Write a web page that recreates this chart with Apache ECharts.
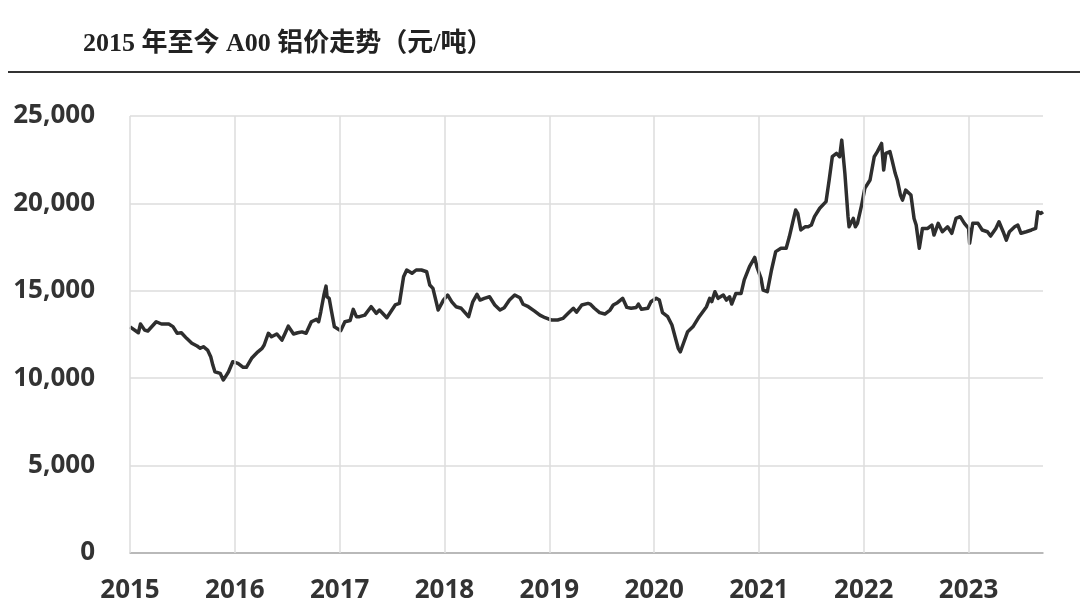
<!DOCTYPE html>
<html>
<head>
<meta charset="utf-8">
<script src="https://cdn.jsdelivr.net/npm/echarts@6/dist/echarts.min.js"></script>
<style>
html,body{margin:0;padding:0;background:#fff;}
#chart{width:1080px;height:611px;}
</style>
</head>
<body>
<div id="chart"></div>
<script>
const titleText = '2015 年至今 A00 铝价走势（元/吨）';
const yearTicks = [2015, 2016, 2017, 2018, 2019, 2020, 2021, 2022, 2023];
const xMin = 2015;
const xMax = 2023.71;
const yTicks = [0, 5000, 10000, 15000, 20000, 25000];

// decimal-year positions of the readings
const dates = [
  2015.00, 2015.08, 2015.10, 2015.14, 2015.17, 2015.25, 2015.30, 2015.37, 2015.41, 2015.45,
  2015.49, 2015.54, 2015.59, 2015.64, 2015.67, 2015.70, 2015.74, 2015.77, 2015.79, 2015.81,
  2015.86, 2015.89, 2015.91, 2015.94, 2015.98, 2016.03, 2016.08, 2016.11, 2016.16, 2016.22,
  2016.26, 2016.28, 2016.32, 2016.35, 2016.40, 2016.45, 2016.48, 2016.51, 2016.56, 2016.60,
  2016.64, 2016.68, 2016.73, 2016.78, 2016.80, 2016.82, 2016.85, 2016.87, 2016.88, 2016.90,
  2016.92, 2016.95, 2017.01, 2017.05, 2017.10, 2017.13, 2017.16, 2017.19, 2017.24, 2017.30,
  2017.35, 2017.38, 2017.45, 2017.53, 2017.57, 2017.61, 2017.64, 2017.69, 2017.73, 2017.78,
  2017.83, 2017.86, 2017.89, 2017.94, 2017.99, 2018.03, 2018.07, 2018.11, 2018.16, 2018.23,
  2018.27, 2018.31, 2018.34, 2018.38, 2018.43, 2018.48, 2018.53, 2018.57, 2018.62, 2018.67,
  2018.72, 2018.75, 2018.80, 2018.86, 2018.91, 2018.96, 2019.02, 2019.08, 2019.13, 2019.18,
  2019.23, 2019.26, 2019.31, 2019.37, 2019.39, 2019.43, 2019.48, 2019.53, 2019.58, 2019.61,
  2019.65, 2019.70, 2019.74, 2019.78, 2019.83, 2019.85, 2019.88, 2019.94, 2019.97, 2020.02,
  2020.05, 2020.08, 2020.13, 2020.17, 2020.20, 2020.23, 2020.25, 2020.28, 2020.32, 2020.37,
  2020.43, 2020.50, 2020.53, 2020.55, 2020.58, 2020.61, 2020.66, 2020.69, 2020.72, 2020.74,
  2020.78, 2020.83, 2020.86, 2020.91, 2020.96, 2020.98, 2021.02, 2021.04, 2021.08, 2021.12,
  2021.16, 2021.21, 2021.26, 2021.29, 2021.32, 2021.35, 2021.37, 2021.40, 2021.44, 2021.47,
  2021.50, 2021.53, 2021.58, 2021.64, 2021.67, 2021.70, 2021.74, 2021.77, 2021.79, 2021.82,
  2021.85, 2021.86, 2021.90, 2021.92, 2021.94, 2021.98, 2022.01, 2022.06, 2022.10, 2022.13,
  2022.17, 2022.19, 2022.21, 2022.25, 2022.27, 2022.30, 2022.32, 2022.35, 2022.37, 2022.40,
  2022.45, 2022.48, 2022.50, 2022.53, 2022.56, 2022.61, 2022.65, 2022.67, 2022.71, 2022.75,
  2022.80, 2022.84, 2022.88, 2022.92, 2022.96, 2023.00, 2023.01, 2023.04, 2023.09, 2023.13,
  2023.18, 2023.21, 2023.26, 2023.29, 2023.33, 2023.36, 2023.39, 2023.44, 2023.47, 2023.50,
  2023.55, 2023.60, 2023.64, 2023.66, 2023.69, 2023.71
];

// A00 aluminium price, yuan/ton
const prices = [
  12940, 12600, 13100, 12750, 12700, 13230, 13100, 13100, 12950, 12570,
  12600, 12280, 12000, 11840, 11710, 11800, 11610, 11230, 10750, 10370,
  10280, 9900, 10080, 10370, 10940, 10850, 10620, 10620, 11140, 11510,
  11710, 11900, 12570, 12370, 12530, 12180, 12570, 12980, 12530, 12600,
  12650, 12570, 13230, 13370, 13230, 13800, 14760, 15270, 14660, 14570,
  13900, 12940, 12720, 13230, 13300, 13940, 13520, 13520, 13610, 14090,
  13710, 13900, 13460, 14190, 14280, 15800, 16190, 16000, 16190, 16190,
  16090, 15330, 15140, 13900, 14470, 14760, 14370, 14090, 14000, 13520,
  14370, 14800, 14470, 14570, 14660, 14190, 13900, 14030, 14470, 14760,
  14600, 14230, 14090, 13840, 13610, 13460, 13330, 13330, 13420, 13710,
  14000, 13780, 14190, 14280, 14240, 14000, 13750, 13670, 13900, 14190,
  14320, 14570, 14050, 14000, 14050, 14240, 13940, 14000, 14370, 14570,
  14470, 13750, 13520, 13040, 12370, 11710, 11510, 12000, 12660, 12940,
  13520, 14090, 14570, 14380, 14950, 14570, 14760, 14470, 14660, 14240,
  14850, 14850, 15620, 16380, 16910, 16380, 15710, 15040, 14950, 16190,
  17240, 17430, 17430, 18090, 18860, 19620, 19430, 18480, 18660, 18660,
  18760, 19240, 19720, 20100, 21340, 22670, 22860, 22670, 23620, 21720,
  19240, 18660, 19140, 18660, 18860, 19910, 20860, 21340, 22670, 22960,
  23430, 21910, 22860, 22960, 22480, 21720, 21340, 20480, 20190, 20760,
  20480, 19140, 18760, 17430, 18570, 18570, 18760, 18190, 18860, 18380,
  18660, 18290, 19140, 19240, 18860, 18570, 17720, 18860, 18860, 18480,
  18380, 18130, 18570, 18950, 18380, 17900, 18380, 18660, 18760, 18290,
  18380, 18480, 18570, 19520, 19430, 19520
];

const seriesData = dates.map((d, i) => [d, prices[i]]);
const labelColor = '#333333';
const fontFam = '"Open Sans", "Noto Sans", sans-serif';

const chart = echarts.init(document.getElementById('chart'), null, {renderer: 'canvas'});
chart.setOption({
  animation: false,
  backgroundColor: '#ffffff',
  graphic: [
    {
      type: 'text',
      left: 83,
      top: 31,
      style: {
        text: titleText,
        font: 'bold 26px "Liberation Serif", "Noto Sans CJK SC", serif',
        fill: '#222222'
      }
    },
    {
      type: 'line',
      shape: {x1: 8, y1: 72, x2: 1080, y2: 72},
      style: {stroke: '#333333', lineWidth: 2}
    }
  ],
  grid: {left: 130, right: 37, top: 116, bottom: 58, containLabel: false},
  xAxis: {
    type: 'value',
    min: xMin,
    max: xMax,
    interval: 1,
    axisLine: {show: true, lineStyle: {color: '#aaaaaa', width: 1.5}},
    axisTick: {show: false},
    splitLine: {show: false},
    axisLabel: {
      showMaxLabel: false,
      margin: 25,
      color: labelColor,
      fontSize: 26,
      fontWeight: 'bold',
      fontFamily: fontFam,
      formatter: v => (yearTicks.indexOf(Math.round(v * 100) / 100) >= 0 ? String(v) : '')
    }
  },
  yAxis: {
    type: 'value',
    min: yTicks[0],
    max: yTicks[yTicks.length - 1],
    interval: 5000,
    axisLine: {show: false},
    axisTick: {show: false},
    splitLine: {show: true, lineStyle: {color: '#dddddd', width: 1.5}},
    axisLabel: {
      margin: 35,
      color: labelColor,
      fontSize: 26,
      fontWeight: 'bold',
      fontFamily: fontFam,
      formatter: v => v.toLocaleString('en-US')
    }
  },
  series: [
    {
      type: 'line',
      z: 1,
      data: [[xMin, 0]],
      showSymbol: false,
      silent: true,
      lineStyle: {width: 0, opacity: 0},
      markLine: {
        silent: true,
        symbol: ['none', 'none'],
        label: {show: false},
        lineStyle: {color: '#dddddd', type: 'solid', width: 1.5},
        data: yearTicks.map(y => ({xAxis: y}))
      }
    },
    {
      type: 'line',
      z: 3,
      data: seriesData,
      showSymbol: false,
      smooth: false,
      lineStyle: {color: '#2e2e2e', width: 3.5, join: 'round'},
      emphasis: {disabled: true}
    }
  ]
});
</script>
</body>
</html>
